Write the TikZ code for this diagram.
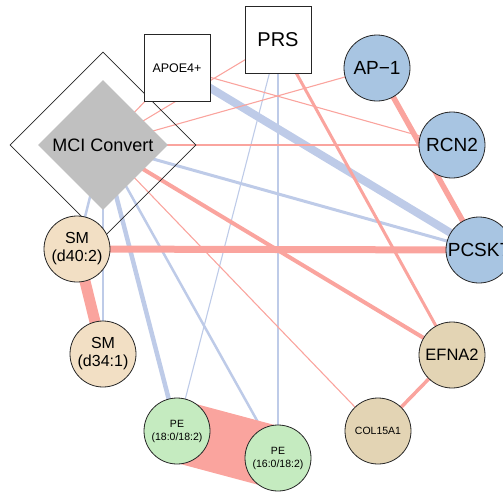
\documentclass[tikz,border=0pt]{standalone}
\usepackage{fontspec}
\setmainfont{Liberation Sans}
\usetikzlibrary{shapes.geometric, backgrounds}
\definecolor{linkpos}  {RGB}{250, 164, 158}
\definecolor{linkneg}  {RGB}{190, 203, 232}
\definecolor{protblue} {RGB}{168, 197, 226}
\definecolor{lipidtan} {RGB}{242, 223, 196}
\definecolor{genetan}  {RGB}{227, 212, 180}
\definecolor{pegreen}  {RGB}{197, 235, 192}
\definecolor{mcigray}  {RGB}{192, 192, 192}

\begin{document}
\begin{tikzpicture}[x=1pt, y=-1pt,
	vertex/.style={circle, draw=black!85, line width=0.8pt, minimum size=66pt, inner sep=0pt, align=center},
	factor/.style={rectangle, draw=black!85, fill=white, line width=0.8pt, minimum width=66pt, minimum height=67pt, inner sep=0pt},
	poslink/.style={draw=linkpos, line width=#1},
	neglink/.style={draw=linkneg, line width=#1},
	poslink/.default=1.1pt, neglink/.default=1.1pt]
	\useasboundingbox (0,0) rectangle (503,491);
	% outcome
	\node[diamond, draw=black!85, line width=0.8pt, minimum width=186pt, minimum height=186pt, inner sep=0pt] (mciframe) at (103,145) {};
	\node[diamond, fill=mcigray, minimum width=130pt, minimum height=130pt, inner sep=0pt, font=\fontsize{18}{20}\selectfont] (mci) at (103,145) {MCI Convert};
	% risk factors
	\node[factor, font=\fontsize{12.5}{14}\selectfont] (apoe) at (177,68) {APOE4+};
	\node[factor, font=\fontsize{20}{22}\selectfont] (prs) at (278,40) {PRS};
	% proteins
	\node[vertex, fill=protblue, font=\fontsize{19}{21}\selectfont] (ap1) at (377,68) {AP−1};
	\node[vertex, fill=protblue, font=\fontsize{19}{21}\selectfont] (rcn2) at (452,145) {RCN2};
	\node[vertex, fill=protblue, font=\fontsize{19}{21}\selectfont] (pcsk7) at (479,250) {PCSK7};
	\node[vertex, fill=genetan, font=\fontsize{16.5}{18}\selectfont] (efna2) at (452,355) {EFNA2};
	\node[vertex, fill=genetan, font=\fontsize{10.5}{12}\selectfont] (col15a1) at (378,431) {COL15A1};
	% lipids
	\node[vertex, fill=pegreen, font=\fontsize{10.5}{13}\selectfont] (pe16) at (278,458) {PE\\(16:0/18:2)};
	\node[vertex, fill=pegreen, font=\fontsize{10.5}{13}\selectfont] (pe18) at (177,431) {PE\\(18:0/18:2)};
	\node[vertex, fill=lipidtan, font=\fontsize{16}{18}\selectfont] (sm34) at (103,354) {SM\\(d34:1)};
	\node[vertex, fill=lipidtan, font=\fontsize{16}{18}\selectfont] (sm40) at (77,249) {SM\\(d40:2)};
	% links
	\begin{scope}[on background layer]
		\draw[neglink=8pt] (apoe.center) -- (pcsk7.center);
		\draw[neglink=3pt] (mci.center) -- (pcsk7.center);
		\draw[neglink=4.5pt] (mci.center) -- (pe18.center);
		\draw[neglink=2.5pt] (mci.center) -- (pe16.center);
		\draw[neglink=2.5pt] (mci.center) -- (sm40.center);
		\draw[neglink] (mci.center) -- (sm34.center);
		\draw[neglink=2.5pt] (prs.center) -- (pe16.center);
		\draw[neglink] (prs.center) -- (pe18.center);
		\draw[poslink] (mci.center) -- (apoe.center);
		\draw[poslink] (mci.center) -- (prs.center);
		\draw[poslink] (mci.center) -- (ap1.center);
		\draw[poslink] (mci.center) -- (rcn2.center);
		\draw[poslink] (mci.center) -- (col15a1.center);
		\draw[poslink] (apoe.center) -- (rcn2.center);
		\draw[poslink=4pt] (mci.center) -- (efna2.center);
		\draw[poslink=3pt] (prs.center) -- (efna2.center);
		\draw[poslink=3.5pt] (efna2.center) -- (col15a1.center);
		\draw[poslink=5.5pt] (ap1.center) -- (pcsk7.center);
		\draw[poslink=7pt] (sm40.center) -- (pcsk7.center);
		\draw[poslink=11pt] (sm40.center) -- (sm34.center);
		\draw[poslink=62pt] (pe18.center) -- (pe16.center);
	\end{scope}
\end{tikzpicture}
\end{document}
